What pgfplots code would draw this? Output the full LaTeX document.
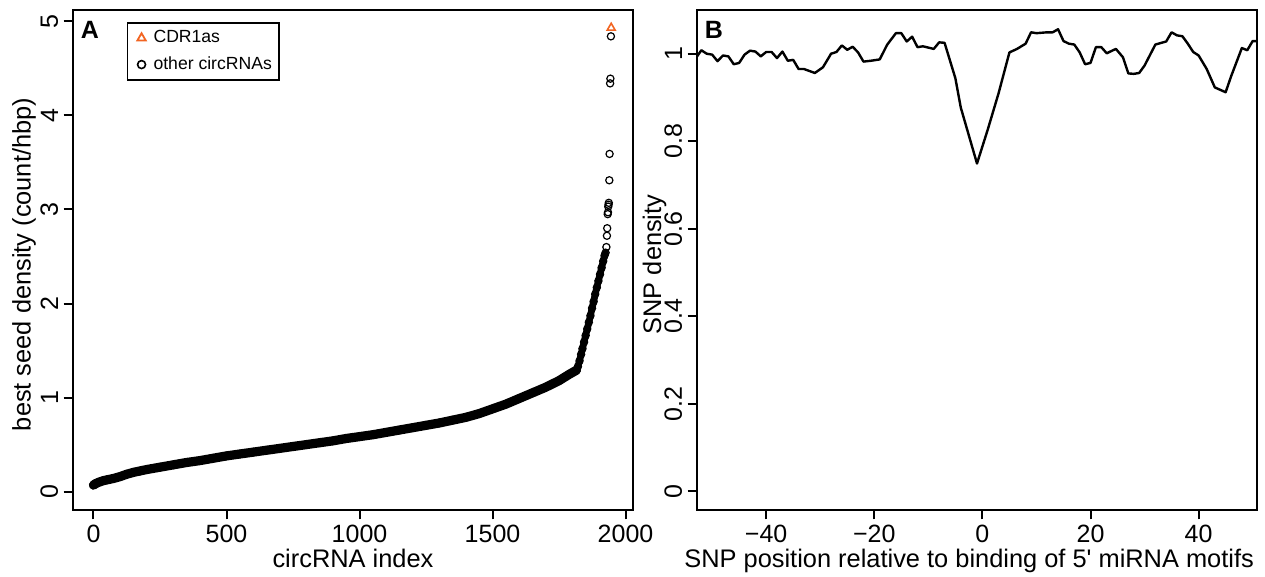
\documentclass[border=0pt]{standalone}
\usepackage{fontspec}
\setmainfont{Liberation Sans}
\usepackage{pgfplots}
\usepackage{pgfplotstable}
\pgfplotsset{compat=1.18}
\definecolor{cdrorange}{RGB}{242,101,34}
\newcommand\sq{{\addfontfeatures{Ligatures=TeXOff}\char39}}

% sorted best seed density, dense part
\pgfplotstableread{
idx val
0 0.07
8 0.085
20 0.10
35 0.115
50 0.125
75 0.14
100 0.16
125 0.185
150 0.205
175 0.22
200 0.235
250 0.26
300 0.285
350 0.31
400 0.33
450 0.355
500 0.38
550 0.40
600 0.42
650 0.44
700 0.46
750 0.48
800 0.50
850 0.52
900 0.54
950 0.565
1000 0.585
1050 0.605
1100 0.63
1150 0.655
1200 0.68
1250 0.705
1300 0.73
1350 0.76
1400 0.79
1450 0.83
1500 0.88
1550 0.93
1600 0.99
1650 1.05
1700 1.11
1750 1.18
1790 1.25
1815 1.29
}\densetab

\pgfplotstableread{
idx val
1815 1.29
1821 1.33
1827 1.39
1833 1.46
1838 1.52
1844 1.59
1850 1.66
1856 1.73
1862 1.80
1868 1.87
1874 1.95
1880 2.02
1886 2.10
1892 2.17
1898 2.24
1904 2.31
1910 2.38
1916 2.45
1921 2.51
1925 2.54
}\steeptab

\pgfplotstableread{
idx val
1928 2.60
1930 2.72
1931 2.80
1933 2.95
1934 2.97
1935 3.03
1936 3.05
1937 3.07
1939 3.31
1940 3.59
1942 4.34
1943 4.39
1945 4.84
}\outliertab

% SNP density profile
\pgfplotstableread{
pos dens
-53 0.990
-52 1.008
-51 1.000
-50 0.998
-49 0.983
-48 0.996
-47 0.994
-46 0.976
-45 0.979
-44 0.998
-43 1.007
-42 1.005
-41 0.994
-40 1.004
-39 1.004
-38 0.990
-37 1.005
-36 0.984
-35 0.986
-34 0.965
-33 0.965
-31 0.956
-29.5 0.969
-28 1.000
-27 1.004
-26 1.019
-25 1.009
-24 1.016
-23 1.003
-22 0.982
-20.6 0.984
-19 0.987
-17.6 1.021
-16 1.047
-15 1.047
-14 1.028
-13 1.039
-12 1.015
-11 1.017
-9 1.011
-8 1.026
-7 1.025
-5 0.944
-4 0.877
-1 0.749
1 0.827
3 0.910
5 1.003
6.4 1.011
8 1.023
9 1.049
10 1.047
12 1.049
13 1.049
14 1.056
15 1.029
16 1.023
17 1.021
18 1.003
19 0.976
20 0.979
21 1.015
22 1.015
23 1.001
24 1.007
24.7 1.011
26 0.992
27 0.955
28 0.954
29 0.956
30 0.973
32 1.021
34 1.028
35 1.049
36 1.042
37 1.040
38 1.023
39 1.004
40 0.996
41.5 0.965
43 0.923
45 0.912
46 0.948
48 1.013
49 1.008
50 1.029
51 1.029
}\snptab

\begin{document}
\begin{tikzpicture}
\pgfplotsset{
  rstyle/.style={
    scale only axis, width=280pt, height=250pt,
    axis line style={line width=1pt},
    tick style={line width=1pt, black},
    tick align=outside, major tick length=4.7pt,
    xtick pos=lower, ytick pos=left,
    ticklabel style={font=\fontsize{12.5}{14}\selectfont},
    /pgf/number format/assume math mode=true,
    /pgf/number format/1000 sep={},
    yticklabel style={xshift=-1.5pt, rotate=90, anchor=south, inner sep=1pt},
    xticklabel style={anchor=north, inner sep=1pt, yshift=-1.8pt},
    every axis x label/.style={at={(axis description cs:0.5,-0.116)}, anchor=base,
      font=\fontsize{12.7}{15}\selectfont},
    every axis y label/.style={at={(axis description cs:-0.0875,0.491)}, anchor=center, rotate=90,
      font=\fontsize{12.7}{15}\selectfont},
  }
}
\begin{axis}[rstyle,
  xmin=-77, xmax=2028, ymin=-0.195, ymax=5.12,
  xtick={0,500,1000,1500,2000}, xticklabels={0,500,1000,1500,2000},
  ytick={0,1,2,3,4,5}, yticklabels={0,1,2,3,4,5},
  xlabel={circRNA index},
  ylabel={best seed density (count/hbp)},
  legend style={at={(0.096,0.976)}, anchor=north west, draw=black, line width=0.8pt,
    font=\fontsize{8.8}{10.5}\selectfont, cells={anchor=west}, inner xsep=1.5pt, inner ysep=1.8pt,
    row sep=1.5pt},
  legend image code/.code={\path[draw=none] (0pt,0pt) -- (9.5pt,0pt); \draw[#1] plot coordinates {(5.5pt,0pt)};},
]
\addlegendimage{only marks, mark=triangle, mark size=2.4pt, cdrorange, mark options={line width=0.9pt}}
\addlegendentry{CDR1as}
\addlegendimage{only marks, mark=o, mark size=2pt, black, mark options={line width=0.8pt}}
\addlegendentry{other circRNAs}
\addplot[black, line width=4.6pt, line cap=round, forget plot] table[x=idx, y=val] {\densetab};
\addplot[only marks, mark=o, mark size=1.9pt, black, mark options={line width=0.6pt}, forget plot] table[x=idx, y=val] {\densetab};
\addplot[black, line width=3.4pt, line cap=round, forget plot] table[x=idx, y=val] {\steeptab};
\addplot[only marks, mark=o, mark size=1.8pt, black, mark options={line width=0.6pt}, forget plot] table[x=idx, y=val] {\steeptab};
\addplot[only marks, mark=o, mark size=1.8pt, black, mark options={line width=0.6pt}, forget plot] table[x=idx, y=val] {\outliertab};
\addplot[only marks, mark=triangle, mark size=2.3pt, cdrorange, mark options={line width=0.8pt}, forget plot] coordinates {(1946,4.93)};
\node[font=\bfseries\fontsize{12.5}{14}\selectfont] at (rel axis cs:0.030,0.96) {A};
\end{axis}

\begin{axis}[rstyle, at={(312pt,0)},
  xmin=-52.8, xmax=50.8, ymin=-0.043, ymax=1.1,
  xtick={-40,-20,0,20,40}, xticklabels={−40,−20,0,20,40},
  ytick={0,0.2,0.4,0.6,0.8,1}, yticklabels={0,0.2,0.4,0.6,0.8,1},
  every axis x label/.style={at={(axis description cs:0.486,-0.116)}, anchor=base,
    font=\fontsize{12.7}{15}\selectfont},
  every axis y label/.style={at={(axis description cs:-0.0759,0.491)}, anchor=center, rotate=90,
    font=\fontsize{12.7}{15}\selectfont},
  xlabel={SNP position relative to binding of 5\sq\ miRNA motifs},
  ylabel={SNP density},
]
\addplot[black, line width=1.2pt, line join=round] table[x=pos, y=dens] {\snptab};
\node[font=\bfseries\fontsize{12.5}{14}\selectfont] at (rel axis cs:0.03,0.96) {B};
\end{axis}
\pgfresetboundingbox
\path (-36.5pt,-33.5pt) rectangle (596pt,255pt);
\end{tikzpicture}
\end{document}
